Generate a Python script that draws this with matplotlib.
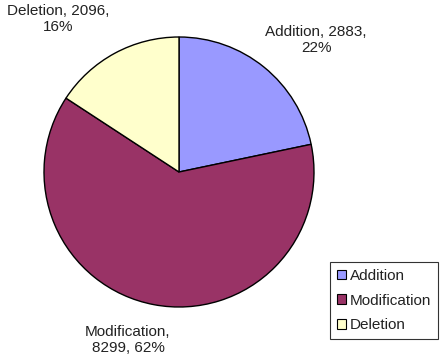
import matplotlib
matplotlib.use("Agg")
import matplotlib.pyplot as plt
from matplotlib.patches import Patch

categories = ["Addition", "Modification", "Deletion"]
values = [2883, 8299, 2096]
percents = [22, 62, 16]
colors = ["#9999FF", "#993366", "#FFFFCC"]
label_texts = ["Addition, 2883,\n22%", "Modification,\n8299, 62%", "Deletion, 2096,\n16%"]
label_pos = [(316, 40), (128, 340), (58, 19)]  # pixel centers (x from left, y from top)

W, H = 447, 363
plt.rcParams['font.family'] = ['Liberation Sans', 'DejaVu Sans']
fig = plt.figure(figsize=(W / 100, H / 100), dpi=100)
fig.patch.set_facecolor("white")

cx, cy, r = 179, 172, 135
ax = fig.add_axes([(cx - r) / W, (H - cy - r) / H, 2 * r / W, 2 * r / H])
ax.pie(values, colors=colors, startangle=90, counterclock=False,
       wedgeprops=dict(edgecolor="black", linewidth=1))
ax.set_xlim(-1, 1)
ax.set_ylim(-1, 1)
ax.set_aspect("equal")
ax.axis("off")

for txt, (x, y) in zip(label_texts, label_pos):
    fig.text(x / W, 1 - y / H, txt, ha="center", va="center",
             fontsize=11, color="#222222", linespacing=1.2)

handles = [Patch(facecolor=c, edgecolor="black", linewidth=0.8) for c in colors]
leg = fig.legend(handles, categories, loc="upper left",
                 bbox_to_anchor=(330 / W, 1 - 262 / H),
                 frameon=True, fancybox=False, edgecolor="black",
                 fontsize=11, handlelength=0.6, handleheight=0.6,
                 handletextpad=0.25, labelspacing=0.7, borderpad=0.45,
                 borderaxespad=0)
leg.get_frame().set_linewidth(0.8)
for t in leg.get_texts():
    t.set_color("#222222")

fig.savefig("out.png", dpi=100)
